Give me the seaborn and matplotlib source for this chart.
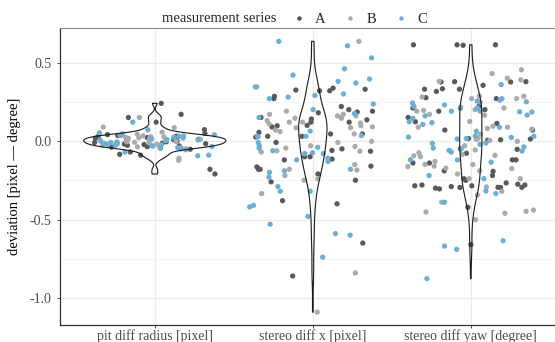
import numpy as np
import pandas as pd
import matplotlib
matplotlib.use('Agg')
import matplotlib.pyplot as plt
import seaborn as sns

# Categories and series
categories = ['pit diff radius [pixel]', 'stereo diff x [pixel]', 'stereo diff yaw [degree]']
series = ['A', 'B', 'C']
colors = ['#595959', '#ababab', '#6baed6']

# deviations, per category and series
pit_A = [0.24, 0.17, 0.15, 0.12, 0.072, 0.048, 0.041, 0.035, 0.029, 0.022, 0.018, 0.012, 0.008, 0.004,
         0.0, -0.005, -0.009, -0.014, -0.019, -0.023, -0.027, -0.031, -0.036, -0.039, -0.045, -0.052,
         -0.07, -0.085, -0.09, -0.18, -0.21, 0.031, -0.017, 0.011]
pit_B = [0.15, 0.089, 0.085, 0.056, 0.044, 0.038, 0.033, 0.027, 0.024, 0.017, 0.015, 0.011, 0.003,
         0.001, -0.004, -0.011, -0.013, -0.019, -0.021, -0.029, -0.033, -0.037, -0.043, -0.05,
         -0.11, -0.123, 0.021, -0.002, -0.008, 0.026]
pit_C = [0.12, 0.072, 0.052, 0.046, 0.04, 0.036, 0.03, 0.025, 0.019, 0.013, 0.009, 0.006, -0.001,
         -0.006, -0.009, -0.015, -0.021, -0.024, -0.027, -0.035, -0.041, -0.044, -0.05, -0.07,
         -0.09, -0.094, 0.032, -0.031, 0.007, -0.056]

x_A = [0.337, 0.33, 0.32, 0.325, 0.32, 0.285, 0.27, 0.22, 0.20, 0.19, 0.185, 0.18, 0.15, 0.14, 0.135,
       0.12, 0.12, 0.10, 0.097, 0.09, 0.055, 0.045, 0.045, 0.03, 0.03, 0.025, -0.009, -0.05, -0.06,
       -0.1, -0.12, -0.115, -0.065, -0.1, -0.18, -0.165, -0.18, -0.16, -0.21, -0.25, -0.26, -0.38,
       -0.4, -0.65, -0.86, 0.028]
x_B = [0.635, 0.19, 0.17, 0.17, 0.16, 0.16, 0.15, 0.145, 0.145, 0.13, 0.12, 0.12, 0.115, 0.11, 0.098,
       0.085, 0.09, 0.085, 0.07, 0.06, 0.045, -0.002, -0.009, -0.03, -0.045, -0.035, -0.065, -0.07,
       -0.062, -0.15, -0.185, -0.18, -0.22, -0.25, -0.24, -0.335, -0.84, -1.09]
x_C = [0.607, 0.635, 0.53, 0.46, 0.42, 0.395, 0.38, 0.37, 0.345, 0.345, 0.30, 0.28, 0.29, 0.27, 0.236,
       0.20, 0.175, 0.15, 0.063, 0.03, 0.035, 0.03, -0.01, -0.03, -0.04, -0.045, -0.062, -0.08, -0.075,
       -0.08, -0.13, -0.12, -0.11, -0.2, -0.19, -0.18, -0.23, -0.29, -0.32, -0.32, -0.42, -0.41, -0.48,
       -0.53, -0.59, -0.6, -0.74]

yaw_A = [0.613, 0.613, 0.613, 0.61, 0.378, 0.355, 0.33, 0.316, 0.376, 0.376, 0.33, 0.378, 0.333, 0.276,
         0.27, 0.225, 0.20, 0.21, 0.21, 0.15, 0.19, 0.112, 0.123, 0.07, 0.07, 0.013, 0.016, 0.008,
         0.005, -0.078, -0.12, -0.14, -0.12, -0.14, -0.053, -0.193, -0.24, -0.22, -0.25, -0.267, -0.28,
         -0.285, -0.275, -0.28, -0.3, -0.305, -0.295, -0.29, -0.285, -0.295, -0.296, -0.296, -0.422,
         -0.66, -0.05, -0.19]
yaw_B = [0.454, 0.43, 0.40, 0.39, 0.38, 0.285, 0.27, 0.27, 0.287, 0.28, 0.21, 0.17, 0.2, 0.195, 0.19,
         0.165, 0.125, 0.094, 0.088, 0.076, 0.088, 0.08, 0.044, 0.004, 0.01, 0.018, -0.002, -0.03,
         -0.057, -0.091, -0.075, -0.085, -0.1, -0.149, -0.163, -0.16, -0.13, -0.15, -0.19, -0.175,
         -0.24, -0.24, -0.21, -0.32, -0.344, -0.293, -0.39, -0.448, -0.461, -0.452, -0.501, -0.44,
         -0.094, -0.173]
yaw_C = [0.36, 0.242, 0.27, 0.247, 0.26, 0.255, 0.25, 0.19, 0.19, 0.22, 0.21, 0.215, 0.185, 0.165, 0.16,
         0.145, 0.106, 0.117, 0.088, 0.062, 0.032, 0.016, 0.025, 0.013, 0.03, 0.023, -0.021, -0.015,
         -0.038, -0.05, -0.013, -0.045, -0.06, -0.07, -0.12, -0.12, -0.135, -0.22, -0.24, -0.318,
         -0.335, -0.39, -0.669, -0.635, -0.69, -0.877, -0.064, 0.123, 0.186, 0.23]

values = {
    (categories[0], 'A'): pit_A, (categories[0], 'B'): pit_B, (categories[0], 'C'): pit_C,
    (categories[1], 'A'): x_A, (categories[1], 'B'): x_B, (categories[1], 'C'): x_C,
    (categories[2], 'A'): yaw_A, (categories[2], 'B'): yaw_B, (categories[2], 'C'): yaw_C,
}
rows = []
for (cat, s), vals in values.items():
    for v in vals:
        rows.append({'measure': cat, 'series': s, 'deviation': v})
df = pd.DataFrame(rows)


def nrd0(kde):
    # R's default bandwidth (Silverman's rule of thumb), as a factor of sd
    x = kde.dataset[0]
    sd = x.std(ddof=1)
    iqr = np.subtract(*np.percentile(x, [75, 25]))
    h = 0.9 * min(sd, iqr / 1.34) * len(x) ** -0.2
    return h / sd


sns.set_style('white')
plt.rcParams['font.family'] = ['Liberation Serif', 'DejaVu Serif']

fig = plt.figure(figsize=(5.55, 3.42), dpi=100)
ax = fig.add_axes([60 / 555, 17 / 342, 505.6 / 555, 297 / 342])

np.random.seed(3)
sns.stripplot(data=df, x='measure', y='deviation', hue='series', order=categories,
              hue_order=series, palette=colors, jitter=0.4, size=3.8, linewidth=0,
              ax=ax, zorder=3)
sns.violinplot(data=df, x='measure', y='deviation', order=categories, fill=False,
               color='#1a1a1a', inner=None, cut=0, width=0.9, density_norm='area',
               bw_method=nrd0, linewidth=0.8, ax=ax, zorder=4)

ax.set_xlim(-0.6, 2.6)
ax.set_ylim(-1.172, 0.72)
ax.set_yticks([-1.0, -0.5, 0.0, 0.5])
ax.set_yticklabels(['-1.0', '-0.5', '0.0', '0.5'])
ax.set_yticks([-0.75, -0.25, 0.25], minor=True)
ax.grid(True, which='major', color='#ebebeb', linewidth=0.9)
ax.grid(True, which='minor', axis='y', color='#f2f2f2', linewidth=0.6)
ax.set_axisbelow(True)

ax.tick_params(axis='both', which='major', labelsize=10, labelcolor='#4d4d4d',
               length=2.5, color='#333333', width=0.6, left=True, bottom=True)
ax.tick_params(axis='x', which='major', pad=0.5)
ax.tick_params(axis='y', which='minor', length=0)
ax.set_xlabel('')
ax.set_ylabel('deviation [pixel — degree]', fontsize=10.5, color='black', labelpad=6)

for side in ['left', 'bottom']:
    ax.spines[side].set_color('#333333')
    ax.spines[side].set_linewidth(0.9)
ax.spines['top'].set_color('#8c8c8c')
ax.spines['top'].set_linewidth(0.8)
ax.spines['right'].set_visible(False)

sns.move_legend(ax, 'center left', bbox_to_anchor=(293 / 555, 1 - 19 / 342),
                bbox_transform=fig.transFigure, ncol=3, title=None, frameon=False,
                handlelength=0.8, handletextpad=0.7, columnspacing=1.3,
                fontsize=10.5, markerscale=0.85, borderaxespad=0, borderpad=0)
fig.text(276 / 555, 1 - 19 / 342, 'measurement series', ha='right', va='center', fontsize=10.5)

fig.savefig('out.png', dpi=100)
